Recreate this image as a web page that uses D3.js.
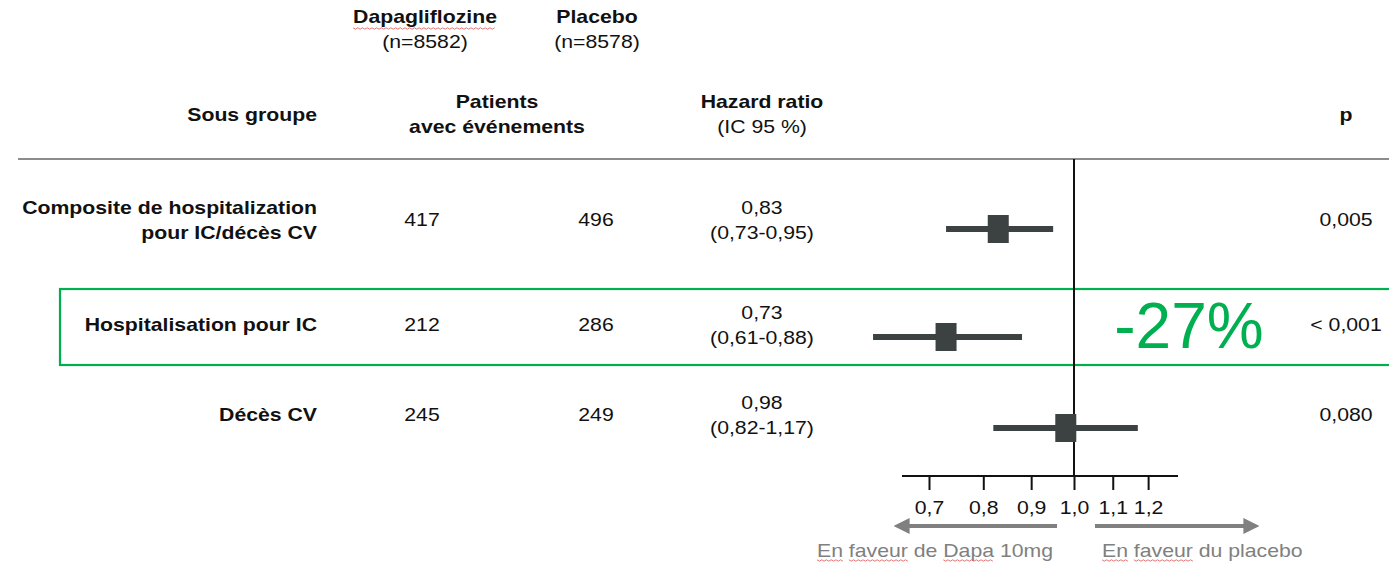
<!DOCTYPE html>
<html>
<head>
<meta charset="utf-8">
<script src="https://cdn.jsdelivr.net/npm/d3@7"></script>
<style>
  html, body { margin: 0; padding: 0; background: #fff; }
  svg { display: block; font-family: "Liberation Sans", Arial, sans-serif; }
</style>
</head>
<body>
<svg id="chart" width="1389" height="563"></svg>
<script>
// Subgroup results: DAPA-HF style forest plot
const subgroups = [
  ["Composite de hospitalization", "pour IC/décès CV"],
  ["Hospitalisation pour IC"],
  ["Décès CV"]
];
const dapaEvents = [417, 212, 245];
const placeboEvents = [496, 286, 249];
const hazardRatio = [0.83, 0.73, 0.98];
const ciLower = [0.73, 0.61, 0.82];
const ciUpper = [0.95, 0.88, 1.17];
const pValues = ["0,005", "< 0,001", "0,080"];
const tickValues = [0.7, 0.8, 0.9, 1.0, 1.1, 1.2];
const highlightRow = 1;
const highlightText = "-27%";

const fmt = v => d3.format(".2f")(v).replace(".", ",");
const fmtTick = v => d3.format(".1f")(v).replace(".", ",");

const svg = d3.select("#chart");
const ink = "#111";
const markColor = "#3c4242";
const green = "#00b050";
const grey = "#808080";
const FS = 18;        // body font size
const SX = 1.18;      // wide body lettering

// Layout
const rowY = [220, 325, 415];          // text centre of each row
const markerOffset = [9, 12, 13];       // marker sits slightly below text centre
const col = { label: 317, dapa: 422, placebo: 596, hr: 762, p: 1346 };
const axisY = 476;

// Log scale for hazard ratios
const x = d3.scaleLog().domain([0.7, 1.0]).range([929, 1074]);

// Wavy spell-check underline under a text element (local coordinates)
function squiggle(parent, x0, w, y) {
  const pts = [];
  for (let xx = x0; xx <= x0 + w; xx += 2) {
    pts.push([xx, y + ((Math.round((xx - x0) / 2) % 2) ? 1.2 : -0.2)]);
  }
  parent.append("path")
    .attr("d", d3.line()(pts))
    .attr("fill", "none")
    .attr("stroke", "#e06060")
    .attr("stroke-width", 0.8);
}

// Text placed at (x, y) with wide lettering
function label(xp, yp, str, opts = {}) {
  const g = svg.append("g").attr("transform", `translate(${xp},${yp}) scale(${SX},1)`);
  const t = g.append("text")
    .attr("text-anchor", opts.anchor || "middle")
    .attr("font-size", FS)
    .attr("font-weight", opts.bold ? "bold" : "normal")
    .attr("fill", opts.color || ink)
    .text(str);
  return { g, t };
}

// Treatment group headers
const dapaHead = label(425, 23, "Dapagliflozine", { bold: true });
{
  const bb = dapaHead.t.node().getBBox();
  squiggle(dapaHead.g, bb.x, bb.width, 5);
}
label(425, 48, "(n=8582)");
label(597, 23, "Placebo", { bold: true });
label(597, 48, "(n=8578)");

// Column headers
label(col.label, 121, "Sous groupe", { bold: true, anchor: "end" });
label(497, 108, "Patients", { bold: true });
label(497, 133, "avec événements", { bold: true });
label(col.hr, 108, "Hazard ratio", { bold: true });
label(col.hr, 133, "(IC 95 %)");
label(col.p, 121, "p", { bold: true });

// Header rule
svg.append("line").attr("x1", 18).attr("x2", 1389).attr("y1", 159).attr("y2", 159)
  .attr("stroke", "#8c8c8c").attr("stroke-width", 2);

// Highlight box around the hospitalisation row
svg.append("rect").attr("x", 60).attr("y", 289).attr("width", 1340).attr("height", 76)
  .attr("fill", "none").attr("stroke", green).attr("stroke-width", 2.2);

// Reference line at HR = 1
svg.append("line").attr("x1", x(1)).attr("x2", x(1)).attr("y1", 159).attr("y2", axisY)
  .attr("stroke", ink).attr("stroke-width", 2);

// Rows
subgroups.forEach((lines, i) => {
  const cy = rowY[i];
  const lh = 25;
  const y0 = cy - (lines.length - 1) * lh / 2 + 6;
  lines.forEach((ln, k) => label(col.label, y0 + k * lh, ln, { bold: true, anchor: "end" }));
  label(col.dapa, cy + 6, dapaEvents[i]);
  label(col.placebo, cy + 6, placeboEvents[i]);
  label(col.hr, cy - 6, fmt(hazardRatio[i]));
  label(col.hr, cy + 19, `(${fmt(ciLower[i])}-${fmt(ciUpper[i])})`);
  label(col.p, cy + 6, pValues[i]);

  // CI whisker and point estimate
  const my = cy + markerOffset[i];
  svg.append("line").attr("x1", x(ciLower[i])).attr("x2", x(ciUpper[i]))
    .attr("y1", my).attr("y2", my).attr("stroke", markColor).attr("stroke-width", 6);
  svg.append("rect").attr("x", x(hazardRatio[i]) - 10.5).attr("y", my - 14)
    .attr("width", 21).attr("height", 28).attr("fill", markColor);
});

// Relative risk reduction callout
svg.append("text").attr("x", 1189).attr("y", rowY[highlightRow] + 23).attr("text-anchor", "middle")
  .attr("font-size", 64).attr("fill", green).text(highlightText);

// Axis
const axis = d3.axisBottom(x).tickValues(tickValues).tickFormat(fmtTick).tickSize(14).tickPadding(11);
const gAxis = svg.append("g").attr("transform", `translate(0,${axisY})`).call(axis);
gAxis.select(".domain").remove();
gAxis.selectAll(".tick line").attr("stroke", ink).attr("stroke-width", 2);
gAxis.selectAll(".tick text").attr("font-size", FS).attr("fill", ink)
  .attr("font-family", "Liberation Sans, Arial, sans-serif")
  .attr("transform", `scale(${SX},1)`);
svg.append("line").attr("x1", 902).attr("x2", 1178).attr("y1", axisY).attr("y2", axisY)
  .attr("stroke", ink).attr("stroke-width", 2);

// Direction arrows
const defs = svg.append("defs");
defs.append("marker").attr("id", "arrowhead").attr("viewBox", "0 0 10 10")
  .attr("refX", 1).attr("refY", 5).attr("markerWidth", 4).attr("markerHeight", 4)
  .attr("orient", "auto").attr("markerUnits", "strokeWidth")
  .append("path").attr("d", "M0,0 L10,5 L0,10 Z").attr("fill", grey);
svg.append("line").attr("x1", 1057).attr("x2", 908).attr("y1", 526).attr("y2", 526)
  .attr("stroke", grey).attr("stroke-width", 4).attr("marker-end", "url(#arrowhead)");
svg.append("line").attr("x1", 1095).attr("x2", 1245).attr("y1", 526).attr("y2", 526)
  .attr("stroke", grey).attr("stroke-width", 4).attr("marker-end", "url(#arrowhead)");

// Direction captions, with spell-check marks under flagged words
function caption(xp, anchor, parts, flagged) {
  const { g, t } = label(xp, 557, "", { anchor, color: grey });
  parts.forEach(s => t.append("tspan").text(s));
  t.selectAll("tspan").each(function() {
    const s = d3.select(this).text();
    if (flagged.includes(s)) {
      const bb = this.getBBox();
      const w = s.trim() === s ? bb.width : this.getComputedTextLength() - 5;
      squiggle(g, bb.x, w, 3);
    }
  });
}
caption(935, "middle", ["En ", "faveur", " de ", "Dapa", " 10mg"], ["En ", "faveur", "Dapa"]);
caption(1102, "start", ["En ", "faveur", " du placebo"], ["En ", "faveur"]);
</script>
</body>
</html>
